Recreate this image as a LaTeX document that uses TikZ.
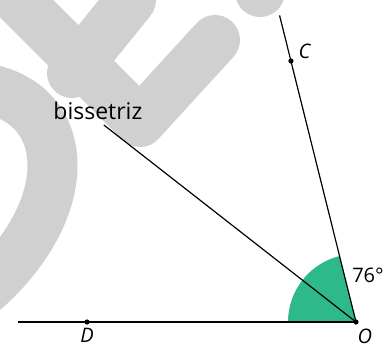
\documentclass[tikz,border=0pt]{standalone}
\usepackage{fontspec}
\setmainfont{Open Sans}
\usetikzlibrary{positioning}
\definecolor{wmgray}{RGB}{208,208,208}
\definecolor{angfill}{RGB}{46,185,139}

\begin{document}
\begin{tikzpicture}[x=0.5pt, y=0.5pt, line width=0.6pt,
    lbl/.style={inner sep=0pt, font=\fontsize{10}{12}\selectfont},
    ptlbl/.style={inner sep=0pt, font=\fontsize{10}{12}\selectfont\itshape},
    wm/.style={draw=wmgray, line width=25pt, line cap=round, line join=round}]
  \useasboundingbox (0,0) rectangle (384,345);
  % faint background mark
  \path[wm] (-30,393) -- (140,223) -- (215,305);
  \path[wm] (72,272) -- (131,345);
  \path[wm] (260,353) -- (265,385);
  \path[wm] (-15,257) .. controls (75,240) and (75,135) .. (-15,55);

  \coordinate (O) at (356,23);
  \coordinate (D) at (87,23);
  \coordinate (west) at (18,23);
  \path (O) ++(104:158pt) coordinate (top);
  \path (O) ++(104:134.5pt) coordinate (C);
  \path (O) ++(142:160pt) coordinate (bis);

  \fill[angfill] (O) -- ++(180:34pt) arc (180:104:34pt) -- cycle;
  \draw (west) -- (O);
  \draw (O) -- (top);
  \draw (O) -- (bis);
  \foreach \p in {O,D,C}
    \fill (\p) circle (1.3pt);

  \node[ptlbl, below=3pt of D] (Dlab) {D};
  \node[ptlbl, below right=3pt and 0.5pt of O] (Olab) {O};
  \node[ptlbl, above right=1pt and 3.5pt of C] (Clab) {C};
  \node[lbl] (ang) at (368,70) {76°};
  \node[lbl, font=\fontsize{11.5}{13}\selectfont, above=2.5pt of bis, xshift=-3pt] (bislab) {bissetriz};
\end{tikzpicture}
\end{document}
